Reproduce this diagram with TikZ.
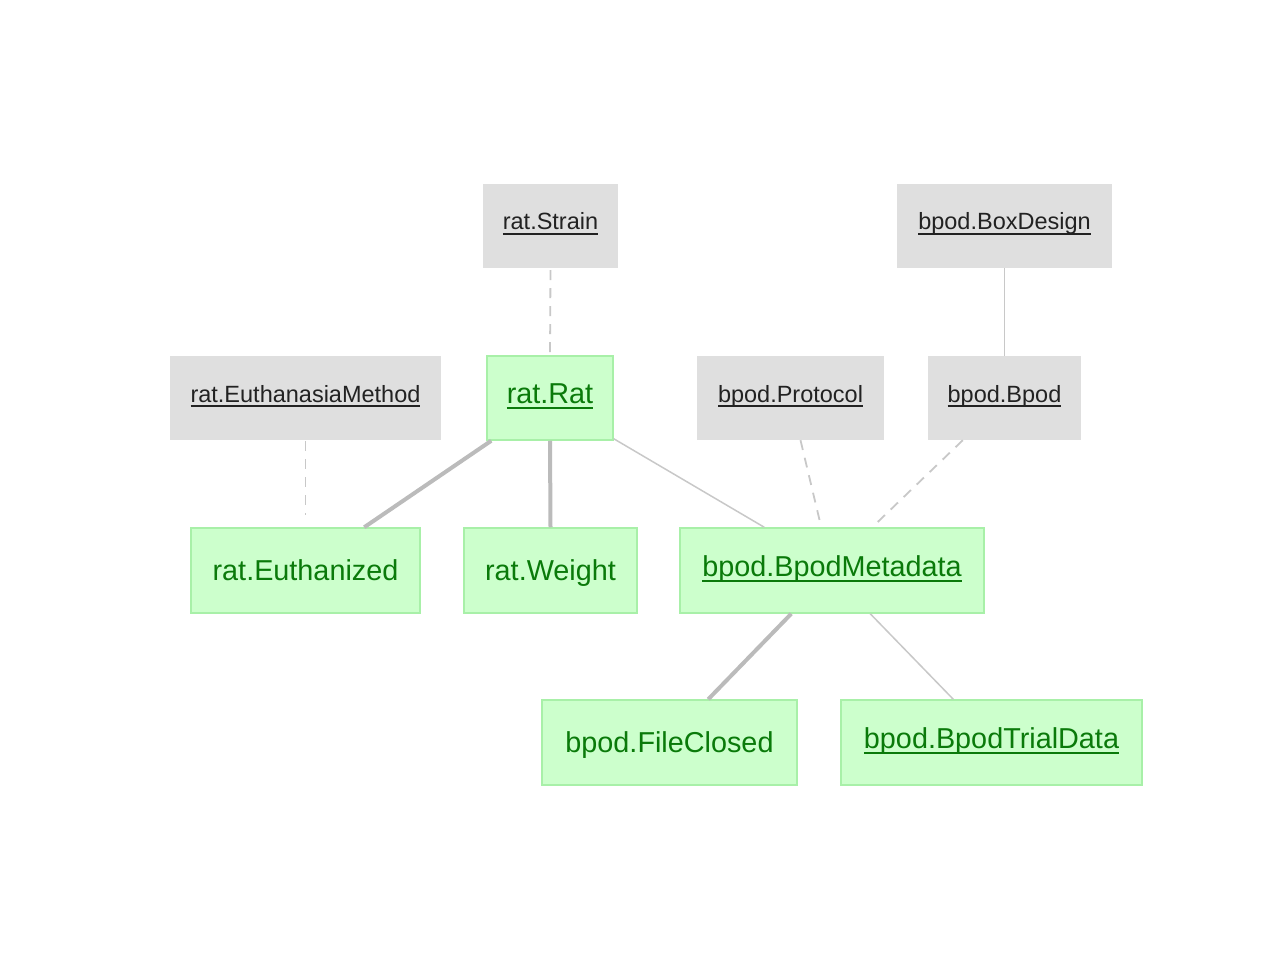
\documentclass[tikz,border=0pt]{standalone}
\usepackage{fontspec}
\setmainfont{Liberation Sans}
\usetikzlibrary{calc}
\definecolor{gfill}{HTML}{DFDFDF}
\definecolor{gtext}{HTML}{222222}
\definecolor{lgfill}{HTML}{CCFFCC}
\definecolor{lgline}{HTML}{A8F0A8}
\definecolor{lgtext}{HTML}{0A7A0A}
\definecolor{edgec}{HTML}{C8C8C8}
\definecolor{thickc}{HTML}{BBBBBB}
\newcommand\ulx[1]{\setbox0\hbox{#1}\rlap{\raisebox{-0.2em}{\rule{\wd0}{0.075em}}}\box0}
\tikzset{
  graybox/.style={fill=gfill, draw=none, inner sep=0pt, text=gtext,
    font=\fontsize{23.5}{28}\selectfont, text height=8pt, text depth=0pt},
  greenbox/.style={fill=lgfill, draw=lgline, line width=1.5pt, inner sep=0pt, text=lgtext,
    font=\fontsize{28.8}{34}\selectfont, text height=11pt, text depth=0pt},
  greenplain/.style={greenbox, text height=19pt},
  thinedge/.style={draw=edgec, line width=1.5pt},
  thickedge/.style={draw=thickc, line width=4pt},
  dashedge/.style={draw=edgec, line width=1.8pt, dash pattern=on 10pt off 8pt},
}
\begin{document}
\begin{tikzpicture}[x=1pt,y=-1pt]
\useasboundingbox (0,0) rectangle (1280,960);
\node[graybox, minimum width=135pt, minimum height=84pt] (strain) at (550.5,226) {\ulx{rat.Strain}};
\node[graybox, minimum width=215pt, minimum height=84pt] (boxdesign) at (1004.5,226) {\ulx{bpod.BoxDesign}};
\node[graybox, minimum width=271pt, minimum height=84pt] (euthmethod) at (305.5,398) {\ulx{rat.EuthanasiaMethod}};
\node[greenbox, minimum width=126pt, minimum height=84pt] (rat) at (550,398) {\ulx{rat.Rat}};
\node[graybox, minimum width=187pt, minimum height=84pt] (protocol) at (790.5,398) {\ulx{bpod.Protocol}};
\node[graybox, minimum width=153pt, minimum height=84pt] (bpod) at (1004.5,398) {\ulx{bpod.Bpod}};
\node[greenplain, minimum width=229pt, minimum height=85pt] (euthanized) at (305.5,570.5) {rat.Euthanized};
\node[greenplain, minimum width=173pt, minimum height=85pt] (weight) at (550.5,570.5) {rat.Weight};
\node[greenbox, minimum width=304pt, minimum height=85pt] (meta) at (832,570.5) {\ulx{bpod.BpodMetadata}};
\node[greenplain, minimum width=255pt, minimum height=85pt] (fileclosed) at (669.5,742.5) {bpod.FileClosed};
\node[greenbox, minimum width=301pt, minimum height=85pt] (trial) at (991.5,742.5) {\ulx{bpod.BpodTrialData}};

\draw[dashedge] ([yshift=-2pt]strain.south) -- (rat.north);
\draw[thinedge] (boxdesign.south) -- (bpod.north);
\draw[dashedge] ([yshift=-1pt]euthmethod.south) -- ([yshift=12pt]euthanized.north);
\draw[thickedge] ([xshift=5pt]rat.south west) -- ([xshift=174pt]euthanized.north west);
\draw[thickedge] (rat.south) -- (weight.north);
\draw[thinedge] ([yshift=2pt]rat.south east) -- ([xshift=85pt]meta.north west);
\draw[dashedge] ([xshift=10pt]protocol.south) -- ([xshift=142pt]meta.north west);
\draw[dashedge] ([xshift=35pt]bpod.south west) -- ([xshift=193pt]meta.north west);
\draw[thickedge] ([xshift=112pt]meta.south west) -- ([xshift=167pt]fileclosed.north west);
\draw[thinedge] ([xshift=191pt]meta.south west) -- ([xshift=113pt]trial.north west);
\end{tikzpicture}
\end{document}
